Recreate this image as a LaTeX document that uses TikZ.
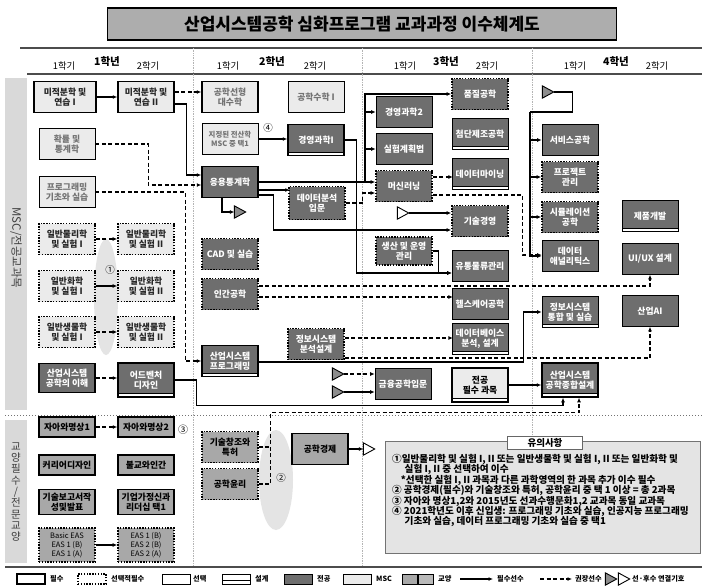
\documentclass[tikz,border=0pt]{standalone}
\usepackage{fontspec}
\setmainfont{Noto Sans CJK KR}
\usetikzlibrary{arrows.meta,calc}
\definecolor{maj}{HTML}{6E6E6E}
\definecolor{msc}{HTML}{EBEBEB}
\definecolor{lib}{HTML}{A8A8A8}
\definecolor{band}{HTML}{D9D9D9}
\definecolor{note}{HTML}{E4E4E4}
\definecolor{sep}{HTML}{B4B4B4}
\newcommand\bxf{\bfseries\fontsize{8.8}{10.2}\selectfont}
\newcommand\tria[3]{\node[tri] (#1) at (#2) {}; \draw[line width=0.9pt, fill=#3] (#1.north west) -- (#1.east) -- (#1.south west) -- cycle;}
\tikzset{
 cbox/.style={draw, minimum width=56pt, minimum height=31pt, align=center, inner sep=0.3pt, font=\bxf},
 reqb/.style={line width=1.5pt},
 optb/.style={line width=0.6pt},
 selb/.style={line width=1.6pt, dash pattern=on 1.4pt off 1.4pt},
 mscf/.style={fill=msc, text=black!85},
 msco/.style={fill=msc, text=black!55},
 majf/.style={fill=maj, text=white},
 libf/.style={fill=lib, text=black},
 desb/.style={path picture={\fill[white] (path picture bounding box.south west) rectangle ([yshift=3.5pt]path picture bounding box.south east); \draw[line width=0.8pt] ([yshift=3.5pt]path picture bounding box.south west) -- ([yshift=3.5pt]path picture bounding box.south east);}},
 prereq/.style={line width=1.3pt, -{Latex[length=4.5pt,width=4pt]}},
 recm/.style={line width=1.3pt, dash pattern=on 4pt off 2.5pt, -{Latex[length=4.5pt,width=4pt]}},
 plain/.style={line width=1.3pt},
 plaindash/.style={line width=1.3pt, dash pattern=on 4pt off 2.5pt},
 tri/.style={inner sep=0, minimum width=11pt, minimum height=12pt},
 hd/.style={font=\fontsize{9.3}{9.3}\selectfont},
 hdy/.style={font=\bfseries\fontsize{10.5}{10.5}\selectfont},
 lg/.style={font=\bfseries\fontsize{7.2}{7.2}\selectfont, anchor=west, inner sep=0},
 lgbox/.style={draw, minimum width=28pt, minimum height=10pt, inner sep=0},
}
\begin{document}
\begin{tikzpicture}[x=1pt,y=-1pt]
\useasboundingbox (0,0) rectangle (702,587);
\fill[white] (0,0) rectangle (702,587);
% title
\node[draw, line width=1.3pt, fill=black!32, minimum width=509pt, minimum height=32pt, font=\bfseries\fontsize{17}{19}\selectfont] (title) at (362,24) {산업시스템공학 심화프로그램 교과과정 이수체계도};
% header lines
\draw[line width=1.5pt, black!70] (20,48) -- (702,48);
\draw[line width=1.5pt, black!70] (27,74) -- (702,74);
% column separators
\draw[sep, line width=0.7pt, densely dotted] (193,48) -- (193,567);
\draw[sep, line width=0.7pt, densely dotted] (362,48) -- (362,567);
\draw[sep, line width=0.7pt, densely dotted] (532,48) -- (532,441);
% header text
\node[hd] (s11) at (64,66) {1학기}; \node[hdy] (y1) at (107,62) {1학년}; \node[hd] (s12) at (148,66) {2학기};
\node[hd] (s21) at (228,66) {1학기}; \node[hdy] (y2) at (272,62) {2학년}; \node[hd] (s22) at (315,66) {2학기};
\node[hd] (s31) at (405,66) {1학기}; \node[hdy] (y3) at (446,62) {3학년}; \node[hd] (s32) at (487,66) {2학기};
\node[hd] (s41) at (575,66) {1학기}; \node[hdy] (y4) at (616,62) {4학년}; \node[hd] (s42) at (657,66) {2학기};
% left bands
\fill[band] (5,78) rectangle (27,410);
\fill[band] (5,420) rectangle (27,563);
\node[rotate=-90, font=\fontsize{11.5}{11.5}\selectfont, text=black!75] (bt1) at (16,248) {MSC/전공교과목};
\node[align=center, font=\fontsize{10.5}{11.3}\selectfont, text=black!75] (bt2) at (16,492) {교\\양\\필\\수\\/\\전\\문\\교\\양};
% separators
\draw[black!55, line width=1pt, dotted] (5,415) -- (702,415);
\draw[line width=1.5pt, black!70] (5,567) -- (702,567);
% ellipses
\fill[note] (106,297) ellipse [x radius=12pt, y radius=58pt];
\fill[note] (276,480) ellipse [x radius=17pt, y radius=50pt];
\node[font=\fontsize{9.5}{9.5}\selectfont] (c1) at (110,270) {①};
\node[font=\fontsize{9.5}{9.5}\selectfont] (c2) at (281,478) {②};
\node[font=\fontsize{10}{10}\selectfont] (c3) at (183,430) {③};
\node[font=\fontsize{9.5}{9.5}\selectfont] (c4) at (268,128) {④};

% ===== Year 1
\node[cbox,reqb,mscf,minimum width=62pt] (mj1) at (65,97) {미적분학 및\\연습 I};
\node[cbox,reqb,mscf] (mj2) at (146,97) {미적분학 및\\연습 II};
\node[cbox,optb,msco] (pr) at (67,144) {확률 및\\통계학};
\node[cbox,optb,msco] (pg) at (67,192) {프로그래밍\\기초와 실습};
\node[cbox,selb,mscf] (ph1) at (67,239) {일반물리학\\및 실험 I};
\node[cbox,selb,mscf] (ph2) at (146,239) {일반물리학\\및 실험 II};
\node[cbox,selb,mscf] (ch1) at (67,286) {일반화학\\및 실험 I};
\node[cbox,selb,mscf] (ch2) at (146,286) {일반화학\\및 실험 II};
\node[cbox,selb,mscf] (bi1) at (67,332) {일반생물학\\및 실험 I};
\node[cbox,selb,mscf] (bi2) at (146,332) {일반생물학\\및 실험 II};
\node[cbox,reqb,majf,minimum height=29pt] (isu) at (67,378) {산업시스템\\공학의 이해};
\node[cbox,reqb,majf,desb,minimum height=34pt] (adv) at (146,380) {어드벤처\\디자인};
\node[cbox,reqb,libf,minimum height=20pt] (me1) at (67,427) {자아와명상1};
\node[cbox,reqb,libf,minimum height=20pt] (me2) at (146,427) {자아와명상2};
\node[cbox,reqb,libf,minimum height=20pt] (car) at (67,465) {커리어디자인};
\node[cbox,reqb,libf,minimum height=20pt] (bud) at (146,465) {불교와인간};
\node[cbox,reqb,libf,minimum height=25pt] (tec) at (67,502) {기술보고서작\\성및발표};
\node[cbox,reqb,libf,minimum height=25pt] (ent) at (146,502) {기업가정신과\\리더십 택1};
\node[cbox,selb,libf,minimum height=34pt,font=\fontsize{7.5}{9}\selectfont] (eas1) at (67,545) {Basic EAS\\EAS 1 (B)\\EAS 1 (A)};
\node[cbox,selb,libf,minimum height=34pt,font=\fontsize{7.5}{9}\selectfont] (eas2) at (146,545) {EAS 1 (B)\\EAS 2 (B)\\EAS 2 (A)};

% ===== Year 2
\node[cbox,reqb,msco] (la) at (230,97) {공학선형\\대수학};
\node[cbox,optb,msco] (em) at (316,97) {공학수학 I};
\node[cbox,optb,msco,font=\bfseries\fontsize{7.4}{9.5}\selectfont] (cs) at (230,139) {지정된 전산학\\MSC 중 택1};
\node[cbox,reqb,majf,desb] (ms1) at (316,140) {경영과학I};
\node[cbox,reqb,majf] (as) at (230,182) {응용통계학};
\node[cbox,selb,majf,minimum height=33pt] (da) at (317,203) {데이터분석\\입문};
\node[cbox,selb,majf] (cad) at (230,254) {CAD 및 실습};
\node[cbox,selb,majf] (hf) at (230,294) {인간공학};
\node[cbox,selb,majf] (isa) at (316,344) {정보시스템\\분석설계};
\node[cbox,reqb,majf,desb] (sp) at (230,361) {산업시스템\\프로그래밍};
\node[cbox,selb,libf] (pat) at (230,447) {기술창조와\\특허};
\node[cbox,selb,libf] (eth) at (230,484) {공학윤리};
\node[cbox,reqb,libf] (eco) at (320,449) {공학경제};

% ===== Year 3
\node[cbox,selb,majf] (qe) at (480,94) {품질공학};
\node[cbox,optb,majf] (ms2) at (404,112) {경영과학2};
\node[cbox,optb,majf,desb] (am) at (480,134) {첨단제조공학};
\node[cbox,optb,majf] (doe) at (404,149) {실험계획법};
\node[cbox,optb,majf,desb] (dm) at (480,174) {데이터마이닝};
\node[cbox,selb,majf] (ml) at (404,186) {머신러닝};
\node[cbox,selb,majf] (tm) at (480,221) {기술경영};
\node[cbox,selb,majf,minimum height=28pt] (pom) at (404,251) {생산 및 운영\\관리};
\node[cbox,optb,majf] (scm) at (480,266) {유통물류관리};
\node[cbox,optb,majf] (hc) at (480,304) {헬스케어공학};
\node[cbox,optb,majf,desb] (db) at (480,339) {데이터베이스\\분석, 설계};
\node[cbox,optb,majf] (fe) at (403,384) {금융공학입문};
\node[cbox,reqb,fill=msc,text=black,desb,minimum height=34pt] (mreq) at (480,385) {전공\\필수 과목};

% ===== Year 4
\node[cbox,optb,majf] (sv) at (570,140) {서비스공학};
\node[cbox,selb,majf] (pm) at (570,177) {프로젝트\\관리};
\node[cbox,selb,majf] (sim) at (570,217) {시뮬레이션\\공학};
\node[cbox,optb,majf,desb] (pd) at (650,216) {제품개발};
\node[cbox,optb,majf] (dal) at (570,256) {데이터\\애널리틱스};
\node[cbox,optb,majf] (ux) at (650,259) {UI/UX 설계};
\node[cbox,optb,majf,desb] (ist) at (570,312) {정보시스템\\통합 및 실습};
\node[cbox,optb,majf] (ai) at (650,311) {산업AI};
\node[cbox,reqb,majf,desb,minimum height=34pt] (cap) at (570,380) {산업시스템\\공학종합설계};

% triangles
\tria{t1}{240,212}{black!45}
\tria{t2}{403,213}{white}
\tria{t3}{338,374}{black!45}
\tria{t4}{338,392}{black!45}
\tria{t5}{548,92}{black!45}
\tria{t6}{369,449}{white}

% ===== connectors
\draw[prereq] (mj1) -- (mj2);
\draw[recm] ($(mj2.east)+(0,-5)$) -- ($(la.west)+(0,-5)$);
\draw[prereq] ($(mj2.east)+(0,7)$) -- ++(12,0) |- ($(as.west)+(0,-7)$);
\draw[recm] (pr.east) -- ++(53,0) |- ($(as.west)+(0,3)$);
\draw[recm] (pg.east) -- ++(90,0) |- (sp.west);
\draw[recm] (ph1) -- (ph2);
\draw[prereq] (ch1) -- (ch2);
\draw[recm] (bi1) -- (bi2);
\draw[recm] (isu.east) -- (isu.east -| adv.west);
\draw[prereq] (adv.east) -- ++(22,0) |- ($(cap.south)+(-7,8)$) -- ($(cap.south)+(-7,0)$);
\draw[recm] (me1) -- (me2);
\draw[prereq] (eas1) -- (eas2);
\draw[plaindash] (pat.east) -- ++(12,0);
\draw[recm] (eth.east) -- ++(12,0) |- ($(cap.south)+(9,15)$) -- ($(cap.south)+(9,0)$);
\draw[prereq] (cs.east) -- (cs.east -| ms1.west);
\draw[prereq] (ms1.east) -- ++(12,0) |- ($(scm.west)+(0,7)$);
\draw[prereq] (pom.east) -- ++(6,0) |- ($(scm.west)+(0,7)$);
\draw[prereq] ($(as.east)+(0,8)$) -- ++(31,0);
\draw[prereq] ($(as.east)+(0,13)$) -- ++(15,0) |- ($(tm.west)+(0,9)$);
\draw[prereq] (as.east) -- (as.east -| ml.west);
\coordinate (j1) at (365,182);
\draw[prereq] (j1) |- (qe.west);
\draw[prereq] (j1) |- (ms2.west);
\draw[prereq] (j1) |- (doe.west);
\draw[recm] (da.east) -- ++(17,0) |- ($(ml.west)+(0,7)$);
\draw[prereq] ($(as.south)+(-8,0)$) |- (t1.west);
\draw[prereq] (t2.east) -- (t2.east -| tm.west);
\draw[recm] (t3.east) -- (t3.east -| fe.west);
\draw[prereq] (t4.east) -- (t4.east -| fe.west);
\draw[recm] ($(ml.east)+(0,-9)$) -- ++(20,0);
\draw[recm] ($(ml.east)+(0,9)$) -- ++(90,0) |- ($(dal.west)+(0,-1)$);
\coordinate (b4) at (530,112);
\draw[plain] (t5.east) -- ++(19,0) |- (b4);
\draw[prereq] (b4) |- (sv.west);
\draw[prereq] (b4) |- (pm.west);
\draw[prereq] (b4) |- (sim.west);
\draw[prereq] (b4) |- (dal.west);
\draw[recm] ($(hf.east)+(0,3)$) -- ++(194,0);
\draw[recm] ($(hf.east)+(0,-8)$) -| (ux.south);
\draw[recm] ($(isa.east)+(0,-6)$) -- ++(108,0);
\draw[recm] ($(isa.east)+(0,14)$) -| (ai.south);
\draw[prereq] ($(sp.east)+(0,1)$) -- ++(265,0) |- (ist.west);
\draw[prereq] (mreq.east) -- (mreq.east -| cap.west);
\draw[prereq] (eco.east) -- (t6.west);

% ===== note box
\node[draw=black!55, line width=1pt, fill=note, minimum width=315pt, minimum height=112pt, anchor=north west] (nb) at (385,441) {};
\node[draw=black!60, fill=white, line width=0.8pt, minimum width=75pt, minimum height=13pt, inner sep=0, font=\bfseries\fontsize{9.5}{9.5}\selectfont] (nt) at (545,443) {유의사항};
\node[anchor=north west, align=left, inner sep=0, font=\bfseries\fontsize{9.6}{10.4}\selectfont] (ntx) at (392,454) {①일반물리학 및 실험 I, II 또는 일반생물학 및 실험 I, II 또는 일반화학 및\\
\hspace*{1.3em}실험 I, II 중 선택하여 이수\\
\hspace*{0.9em}*선택한 실험 I, II 과목과 다른 과학영역의 한 과목 추가 이수 필수\\
② 공학경제(필수)와 기술창조와 특허, 공학윤리 중 택 1 이상 = 총 2과목\\
③ 자아와 명상1,2와 2015년도 선과수행문화1,2 교과목 동일 교과목\\
④ 2021학년도 이후 신입생: 프로그래밍 기초와 실습, 인공지능 프로그래밍\\
\hspace*{1.3em}기초와 실습, 데이터 프로그래밍 기초와 실습 중 택1};

% ===== legend
\node[lgbox, line width=1.5pt] (lb1) at (31,579) {};
\node[lg] (lt1) at (50,579) {필수};
\node[lgbox, selb] (lb2) at (92,579) {};
\node[lg] (lt2) at (111,579) {선택적필수};
\node[lgbox, optb] (lb3) at (176,579) {};
\node[lg] (lt3) at (193,579) {선택};
\node[lgbox, optb, fill=white, desb] (lb4) at (236,579) {};
\node[lg] (lt4) at (255,579) {설계};
\node[lgbox, optb, fill=maj] (lb5) at (298,579) {};
\node[lg] (lt5) at (317,579) {전공};
\node[lgbox, optb, fill=msc] (lb6) at (357,579) {};
\node[lg] (lt6) at (376,579) {MSC};
\node[lgbox, optb, fill=lib, minimum width=15pt] (lb7) at (410,579) {};
\node[lgbox, optb, fill=lib!80, minimum width=15pt] (lb8) at (426,579) {};
\node[lg] (lt7) at (438,579) {교양};
\coordinate (la1) at (460,579); \coordinate (la2) at (493,579);
\draw[prereq] (la1) -- (la2);
\node[lg] (lt8) at (497,579) {필수선수};
\coordinate (la3) at (540,579); \coordinate (la4) at (572,579);
\draw[recm] (la3) -- (la4);
\node[lg] (lt9) at (575,579) {권장선수};
\tria{lt1t}{611,579}{black!45}
\tria{lt2t}{624,579}{white}
\node[lg] (lt10) at (632,579) {선·후수 연결기호};
\end{tikzpicture}
\end{document}
